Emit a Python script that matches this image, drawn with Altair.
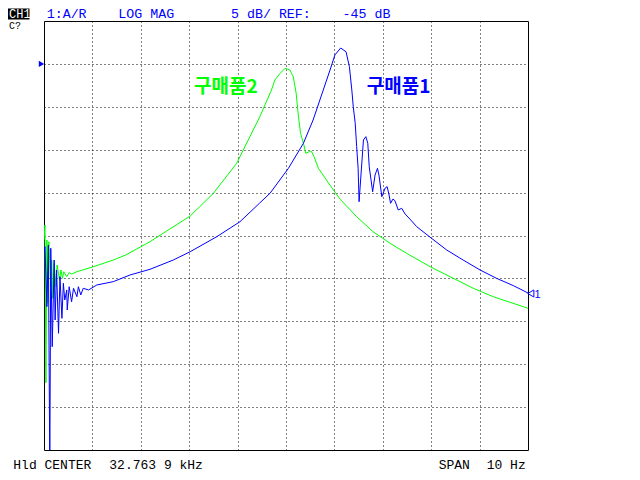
import altair as alt
import pandas as pd

# ---- data (frequency in Hz, level in dB) ----
blue_freq = [32758.90, 32758.92, 32758.96, 32758.99, 32759.02, 32759.04, 32759.07, 32759.11,
             32759.13, 32759.16, 32759.20, 32759.23, 32759.27, 32759.30, 32759.33, 32759.37,
             32759.38, 32759.42, 32759.47, 32759.51, 32759.58, 32759.61, 32759.66, 32759.71,
             32759.82, 32759.99, 32760.33, 32760.68, 32761.09, 32761.57, 32761.92, 32762.47,
             32762.95, 32763.35, 32763.57, 32763.95, 32764.26, 32764.46, 32764.67, 32764.81,
             32764.91, 32765.03, 32765.14, 32765.21, 32765.26, 32765.29, 32765.33, 32765.36,
             32765.39, 32765.41, 32765.50, 32765.55, 32765.59, 32765.62, 32765.69, 32765.74,
             32765.79, 32765.82, 32765.88, 32765.95, 32765.99, 32766.03, 32766.06, 32766.11,
             32766.15, 32766.22, 32766.29, 32766.36, 32766.46, 32766.60, 32766.88, 32767.22,
             32767.56, 32767.91, 32768.25, 32768.60, 32768.90]
blue_db = [-66.96, -66.31, -73.30, -66.11, -92.00, -66.49, -77.96, -67.86,
           -74.85, -69.02, -76.40, -69.80, -74.65, -70.57, -72.52, -71.35,
           -73.68, -70.97, -72.72, -71.15, -72.13, -70.97, -71.93, -71.15,
           -71.35, -70.77, -70.38, -69.60, -68.94, -67.86, -66.89, -65.14,
           -63.39, -61.25, -60.08, -57.17, -54.25, -51.54, -48.04, -45.71,
           -43.96, -43.15, -43.58, -45.33, -48.04, -49.99, -51.92, -54.65,
           -57.17, -61.06, -53.87, -53.48, -54.25, -56.98, -59.90, -57.95,
           -57.17, -57.95, -60.48, -59.46, -59.31, -60.28, -61.25, -60.75,
           -60.94, -62.03, -61.83, -62.49, -63.08, -63.97, -65.21, -66.69,
           -67.86, -69.02, -69.99, -70.85, -71.70]

green_freq = [32758.90, 32758.92, 32758.94, 32758.96, 32758.98, 32759.00, 32759.04, 32759.06,
              32759.08, 32759.11, 32759.15, 32759.17, 32759.22, 32759.25, 32759.28, 32759.31,
              32759.37, 32759.42, 32759.47, 32759.58, 32759.92, 32760.33, 32760.59, 32761.09,
              32761.92, 32762.40, 32762.88, 32763.12, 32763.36, 32763.60, 32763.67, 32763.78,
              32763.88, 32763.98, 32764.05, 32764.11, 32764.15, 32764.20, 32764.26, 32764.31,
              32764.38, 32764.43, 32764.48, 32764.57, 32764.64, 32764.88, 32765.02, 32765.36,
              32765.70, 32766.05, 32766.39, 32766.88, 32767.29, 32767.77, 32768.18, 32768.90]
green_db = [-65.52, -63.78, -82.16, -65.52, -72.90, -65.72, -70.97, -67.86,
            -72.32, -68.24, -70.97, -68.44, -70.19, -69.02, -69.99, -69.22,
            -69.80, -69.33, -69.49, -69.22, -68.64, -67.86, -67.27, -65.72,
            -62.73, -60.08, -56.59, -53.87, -51.15, -48.04, -46.88, -46.10,
            -45.51, -45.71, -46.49, -48.43, -50.76, -53.09, -54.25, -55.42,
            -55.23, -55.23, -55.82, -57.17, -57.75, -59.70, -60.78, -62.81,
            -64.56, -65.91, -67.07, -68.64, -69.80, -71.15, -72.13, -73.48]

series_names = ["구매품1", "구매품2"]
series_colors = ["#0000ff", "#00ff00"]

center_hz = 32763.9
span_hz = 10.0
ref_db = -45
db_per_div = 5
x_grid = [32759.9, 32760.9, 32761.9, 32762.9, 32763.9, 32764.9, 32765.9, 32766.9, 32767.9]
y_grid = [-45, -50, -55, -60, -65, -70, -75, -80, -85]
marker1_db = -71.76

header_items = ["1:A/R", "LOG MAG", "5 dB/ REF:", "-45 dB"]
footer_left = ["Hld CENTER", "32.763 9 kHz"]
footer_right = ["SPAN", "10 Hz"]

# ---- table ----
rows = []
for i, (f, d) in enumerate(zip(green_freq, green_db)):
    rows.append({"freq": f, "db": d, "trace": series_names[1], "idx": i, "layer": 0})
for i, (f, d) in enumerate(zip(blue_freq, blue_db)):
    rows.append({"freq": f, "db": d, "trace": series_names[0], "idx": i, "layer": 1})
df = pd.DataFrame(rows)

W, H = 484, 429
MONO = "Liberation Mono"

xscale = alt.Scale(domain=[center_hz - span_hz / 2, center_hz + span_hz / 2], nice=False, zero=False)
yscale = alt.Scale(domain=[ref_db - 9 * db_per_div, ref_db + db_per_div], nice=False, zero=False)

grid_axis_x = alt.Axis(values=x_grid, grid=True, gridDash=[1, 3], gridColor="black", gridOpacity=1,
                       gridWidth=1, labels=False, ticks=False, domain=False, title=None)
grid_axis_y = alt.Axis(values=y_grid, grid=True, gridDash=[1, 3], gridColor="black", gridOpacity=1,
                       gridWidth=1, labels=False, ticks=False, domain=False, title=None)

base = alt.Chart(df)

lines = alt.layer(*[
    base.transform_filter(alt.datum.layer == k).mark_line(strokeWidth=1, clip=True).encode(
        x=alt.X("freq:Q", scale=xscale, axis=grid_axis_x),
        y=alt.Y("db:Q", scale=yscale, axis=grid_axis_y),
        color=alt.Color("trace:N", scale=alt.Scale(domain=series_names, range=series_colors), legend=None),
        order="idx:Q",
    )
    for k in (0, 1)
])

one = pd.DataFrame({"a": [0]})


def txt(text, x, y, color="black", size=13.3, font=MONO, weight="normal", align="left"):
    return alt.Chart(one).mark_text(text=text, font=font, fontSize=size, fontWeight=weight,
                                    color=color, align=align, baseline="alphabetic").encode(
        x=alt.value(x), y=alt.value(y))


ch1_box = alt.Chart(one).mark_rect(color="black").encode(
    x=alt.value(-36), x2=alt.value(-14.5), y=alt.value(-12.5), y2=alt.value(-1.5))

ref_marker = alt.Chart(one).mark_point(shape="triangle-right", filled=True, color="#0000ff",
                                       size=38, opacity=1, clip=False).encode(
    x=alt.value(-2.5), y=alt.datum(ref_db))

m1_marker = alt.Chart(one).mark_point(shape="triangle-left", filled=False, color="#0000ff",
                                      size=50, strokeWidth=1, opacity=1, clip=False).encode(
    x=alt.value(486.8), y=alt.datum(marker1_db))

layers = [lines, ch1_box, ref_marker, m1_marker,
          txt("CH1", -35, -3, color="white", size=12),
          txt("C?", -35, 7.5, size=10),
          txt(header_items[0], 2.7, -3, color="#0000ff"),
          txt(header_items[1], 74.3, -3, color="#0000ff"),
          txt(header_items[2], 187, -3, color="#0000ff"),
          txt(header_items[3], 298.6, -3, color="#0000ff"),
          txt(footer_left[0], -30.7, 447.5, size=13),
          txt(footer_left[1], 65.3, 447.5, size=13),
          txt(footer_right[0], 394.7, 447.5, size=13),
          txt(footer_right[1], 442.7, 447.5, size=13),
          txt("1", 490.5, 277, color="#0000ff", size=11, font="Liberation Sans"),
          txt(series_names[1], 150, 72, color="#00ff00", size=19, font="Noto Sans CJK KR", weight="bold"),
          txt(series_names[0], 322.7, 72, color="#0000ff", size=19, font="Noto Sans CJK KR", weight="bold"),
          ]

chart = alt.layer(*layers).properties(
    width=W, height=H,
    autosize=alt.AutoSizeParams(type="none"),
    padding={"left": 36, "top": 13, "right": 104, "bottom": 22},
    background="white",
).configure_view(stroke="black", strokeWidth=1)

chart.save("out.html", embed_options={"renderer": "svg", "actions": False})
